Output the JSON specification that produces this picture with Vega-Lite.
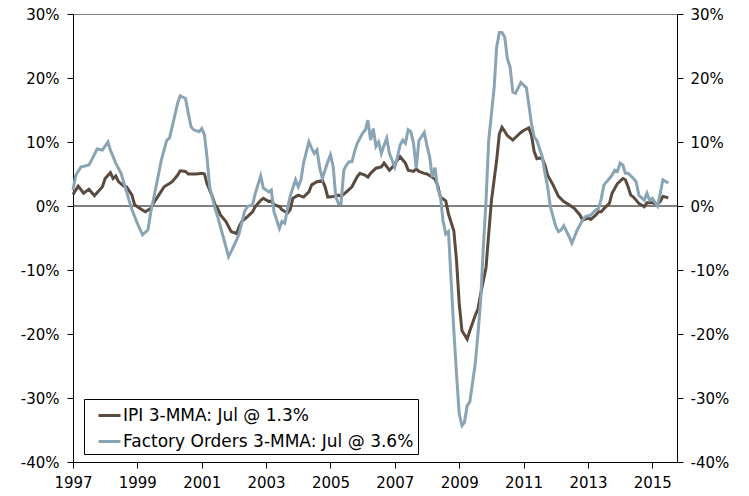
{
  "$schema": "https://vega.github.io/schema/vega-lite/v6.json",
  "width": 604,
  "height": 448,
  "autosize": {"type": "none"},
  "padding": {"left": 73, "top": 14, "right": 72, "bottom": 34},
  "config": {
    "view": {"stroke": "#7f7f7f", "strokeWidth": 1},
    "font": "DejaVu Sans",
    "axis": {"labelFont": "DejaVu Sans", "labelFontSize": 15, "labelColor": "#000", "domainColor": "#000", "tickColor": "#000", "grid": false, "title": null, "domainWidth": 1, "tickWidth": 1, "tickSize": 6}
  },
  "datasets": {
    "zero": [{"v": 0}],
    "ipi": [
      {"date":"1997-01","value":1.8},{"date":"1997-03","value":3.1},{"date":"1997-05","value":2.0},{"date":"1997-07","value":2.6},{"date":"1997-09","value":1.6},{"date":"1997-12","value":3.0},
      {"date":"1998-01","value":4.3},{"date":"1998-03","value":5.2},{"date":"1998-04","value":4.3},{"date":"1998-05","value":4.7},{"date":"1998-06","value":3.8},{"date":"1998-08","value":3.1},{"date":"1998-09","value":3.0},{"date":"1998-11","value":1.7},{"date":"1998-12","value":0.2},
      {"date":"1999-02","value":-0.4},{"date":"1999-04","value":-0.9},{"date":"1999-06","value":-0.4},{"date":"1999-07","value":0.4},{"date":"1999-09","value":1.7},{"date":"1999-11","value":3.0},
      {"date":"2000-01","value":3.5},{"date":"2000-02","value":3.8},{"date":"2000-04","value":4.8},{"date":"2000-05","value":5.5},{"date":"2000-07","value":5.4},{"date":"2000-08","value":5.0},{"date":"2000-10","value":5.0},{"date":"2000-11","value":5.0},
      {"date":"2001-01","value":5.1},{"date":"2001-02","value":5.0},{"date":"2001-03","value":3.5},{"date":"2001-05","value":1.5},{"date":"2001-06","value":0.2},{"date":"2001-07","value":-0.4},{"date":"2001-08","value":-1.4},{"date":"2001-10","value":-2.4},{"date":"2001-12","value":-4.0},
      {"date":"2002-02","value":-4.3},{"date":"2002-03","value":-3.2},{"date":"2002-04","value":-2.4},{"date":"2002-06","value":-1.7},{"date":"2002-08","value":-0.9},{"date":"2002-09","value":-0.1},{"date":"2002-11","value":0.9},{"date":"2002-12","value":1.2},
      {"date":"2003-02","value":0.7},{"date":"2003-03","value":0.8},{"date":"2003-04","value":0.2},{"date":"2003-06","value":-0.1},{"date":"2003-07","value":-0.6},{"date":"2003-09","value":-1.1},{"date":"2003-10","value":-0.6},{"date":"2003-11","value":1.2},
      {"date":"2004-01","value":1.7},{"date":"2004-03","value":1.4},{"date":"2004-05","value":2.2},{"date":"2004-06","value":3.3},{"date":"2004-08","value":3.8},{"date":"2004-10","value":4.0},{"date":"2004-11","value":3.0},{"date":"2004-12","value":1.4},
      {"date":"2005-02","value":1.5},{"date":"2005-04","value":1.7},{"date":"2005-05","value":1.5},{"date":"2005-07","value":2.2},{"date":"2005-09","value":3.0},{"date":"2005-11","value":4.6},{"date":"2005-12","value":5.1},
      {"date":"2006-02","value":4.8},{"date":"2006-03","value":4.5},{"date":"2006-04","value":5.1},{"date":"2006-06","value":5.9},{"date":"2006-08","value":6.1},{"date":"2006-09","value":6.7},{"date":"2006-11","value":5.6},{"date":"2006-12","value":6.0},
      {"date":"2007-02","value":7.2},{"date":"2007-03","value":7.7},{"date":"2007-05","value":6.7},{"date":"2007-06","value":5.6},{"date":"2007-08","value":5.4},{"date":"2007-09","value":5.8},{"date":"2007-10","value":5.4},{"date":"2007-12","value":5.1},
      {"date":"2008-01","value":5.0},{"date":"2008-03","value":4.5},{"date":"2008-04","value":4.2},{"date":"2008-05","value":3.2},{"date":"2008-06","value":1.4},{"date":"2008-08","value":0.8},{"date":"2008-09","value":-1.25},{"date":"2008-11","value":-3.9},{"date":"2008-12","value":-8.5},
      {"date":"2009-01","value":-15.3},{"date":"2009-02","value":-19.5},{"date":"2009-04","value":-20.8},{"date":"2009-05","value":-19.5},{"date":"2009-07","value":-17.1},{"date":"2009-08","value":-16.1},{"date":"2009-09","value":-13.75},{"date":"2009-11","value":-9.6},{"date":"2009-12","value":-4.4},
      {"date":"2010-01","value":0.8},{"date":"2010-03","value":7.1},{"date":"2010-04","value":11.25},{"date":"2010-05","value":12.3},{"date":"2010-07","value":11.0},{"date":"2010-09","value":10.3},{"date":"2010-10","value":10.7},{"date":"2010-12","value":11.5},
      {"date":"2011-01","value":11.8},{"date":"2011-03","value":12.2},{"date":"2011-04","value":11.0},{"date":"2011-05","value":8.5},{"date":"2011-06","value":7.4},{"date":"2011-07","value":7.5},{"date":"2011-08","value":7.4},{"date":"2011-09","value":6.4},{"date":"2011-10","value":4.8},{"date":"2011-12","value":3.3},
      {"date":"2012-02","value":1.5},{"date":"2012-04","value":0.7},{"date":"2012-06","value":0.2},{"date":"2012-08","value":-0.4},{"date":"2012-10","value":-1.4},{"date":"2012-11","value":-2.2},
      {"date":"2013-01","value":-1.9},{"date":"2013-02","value":-2.1},{"date":"2013-04","value":-1.4},{"date":"2013-05","value":-0.9},{"date":"2013-06","value":-0.9},{"date":"2013-07","value":-0.4},{"date":"2013-09","value":0.4},{"date":"2013-10","value":2.0},{"date":"2013-12","value":3.5},
      {"date":"2014-02","value":4.3},{"date":"2014-03","value":4.1},{"date":"2014-04","value":3.0},{"date":"2014-05","value":1.7},{"date":"2014-06","value":1.4},{"date":"2014-08","value":0.4},{"date":"2014-10","value":-0.1},{"date":"2014-11","value":0.5},
      {"date":"2015-01","value":0.5},{"date":"2015-03","value":0.3},{"date":"2015-04","value":0.7},{"date":"2015-05","value":1.5},{"date":"2015-07","value":1.3}
    ],
    "fo": [
      {"date":"1997-01","value":2.5},{"date":"1997-02","value":4.8},{"date":"1997-04","value":6.1},{"date":"1997-07","value":6.4},{"date":"1997-08","value":7.2},{"date":"1997-10","value":8.9},{"date":"1997-12","value":8.75},
      {"date":"1998-02","value":10.0},{"date":"1998-03","value":8.75},{"date":"1998-05","value":6.7},{"date":"1998-07","value":5.1},{"date":"1998-09","value":2.2},{"date":"1998-11","value":-0.6},
      {"date":"1999-01","value":-2.7},{"date":"1999-03","value":-4.5},{"date":"1999-05","value":-3.75},{"date":"1999-06","value":-1.1},{"date":"1999-08","value":3.0},{"date":"1999-10","value":7.2},{"date":"1999-12","value":10.3},
      {"date":"2000-01","value":10.6},{"date":"2000-02","value":12.4},{"date":"2000-04","value":16.0},{"date":"2000-05","value":17.2},{"date":"2000-07","value":16.8},{"date":"2000-08","value":14.5},{"date":"2000-09","value":12.4},{"date":"2000-10","value":11.9},{"date":"2000-12","value":11.6},
      {"date":"2001-01","value":12.1},{"date":"2001-02","value":11.1},{"date":"2001-03","value":7.7},{"date":"2001-04","value":3.0},{"date":"2001-06","value":-0.4},{"date":"2001-07","value":-1.7},{"date":"2001-09","value":-4.8},{"date":"2001-11","value":-7.9},{"date":"2001-12","value":-7.1},
      {"date":"2002-02","value":-5.3},{"date":"2002-03","value":-4.3},{"date":"2002-05","value":-0.9},{"date":"2002-06","value":-0.1},{"date":"2002-08","value":0.2},{"date":"2002-09","value":2.0},{"date":"2002-11","value":4.7},{"date":"2002-12","value":2.8},
      {"date":"2003-02","value":2.2},{"date":"2003-03","value":2.5},{"date":"2003-04","value":-0.9},{"date":"2003-06","value":-3.5},{"date":"2003-07","value":-2.4},{"date":"2003-08","value":-2.7},{"date":"2003-09","value":-0.4},{"date":"2003-10","value":1.5},{"date":"2003-12","value":4.1},
      {"date":"2004-01","value":3.0},{"date":"2004-02","value":4.1},{"date":"2004-03","value":6.7},{"date":"2004-05","value":10.0},{"date":"2004-06","value":9.0},{"date":"2004-07","value":8.2},{"date":"2004-08","value":8.75},{"date":"2004-09","value":5.9},{"date":"2004-10","value":4.3},{"date":"2004-12","value":6.9},
      {"date":"2005-01","value":8.0},{"date":"2005-02","value":6.1},{"date":"2005-03","value":1.5},{"date":"2005-04","value":0.4},{"date":"2005-05","value":0.4},{"date":"2005-06","value":5.6},{"date":"2005-07","value":6.4},{"date":"2005-08","value":6.9},{"date":"2005-09","value":6.9},{"date":"2005-10","value":8.5},{"date":"2005-11","value":9.8},
      {"date":"2006-01","value":11.4},{"date":"2006-02","value":11.9},{"date":"2006-03","value":13.4},{"date":"2006-04","value":10.3},{"date":"2006-05","value":12.1},{"date":"2006-06","value":9.3},{"date":"2006-07","value":10.0},{"date":"2006-08","value":8.2},{"date":"2006-09","value":9.5},{"date":"2006-10","value":10.6},{"date":"2006-11","value":8.2},
      {"date":"2007-01","value":6.1},{"date":"2007-02","value":7.7},{"date":"2007-03","value":9.5},{"date":"2007-04","value":10.3},{"date":"2007-05","value":9.8},{"date":"2007-06","value":11.9},{"date":"2007-07","value":11.6},{"date":"2007-08","value":9.8},{"date":"2007-09","value":5.9},{"date":"2007-10","value":10.2},{"date":"2007-12","value":11.5},
      {"date":"2008-01","value":9.4},{"date":"2008-02","value":7.6},{"date":"2008-03","value":4.5},{"date":"2008-04","value":6.0},{"date":"2008-05","value":2.7},{"date":"2008-06","value":1.6},{"date":"2008-07","value":-2.3},{"date":"2008-08","value":-4.4},{"date":"2008-09","value":-4.0},{"date":"2008-10","value":-11.7},{"date":"2008-11","value":-19.5},{"date":"2008-12","value":-26.25},
      {"date":"2009-01","value":-32.5},{"date":"2009-02","value":-34.3},{"date":"2009-03","value":-33.8},{"date":"2009-04","value":-31.2},{"date":"2009-05","value":-30.6},{"date":"2009-07","value":-24.7},{"date":"2009-08","value":-20.0},{"date":"2009-09","value":-14.8},{"date":"2009-10","value":-6.5},{"date":"2009-11","value":0.8},{"date":"2009-12","value":10.2},
      {"date":"2010-02","value":18.5},{"date":"2010-03","value":24.8},{"date":"2010-04","value":27.1},{"date":"2010-05","value":27.1},{"date":"2010-06","value":26.4},{"date":"2010-07","value":23.0},{"date":"2010-08","value":21.7},{"date":"2010-09","value":17.8},{"date":"2010-10","value":17.6},{"date":"2010-12","value":19.3},
      {"date":"2011-02","value":18.5},{"date":"2011-03","value":15.9},{"date":"2011-04","value":12.8},{"date":"2011-05","value":10.8},{"date":"2011-06","value":10.2},{"date":"2011-08","value":7.7},{"date":"2011-09","value":5.1},{"date":"2011-10","value":3.0},{"date":"2011-11","value":-0.1},
      {"date":"2012-01","value":-3.2},{"date":"2012-02","value":-4.0},{"date":"2012-03","value":-3.75},{"date":"2012-04","value":-3.1},{"date":"2012-06","value":-4.8},{"date":"2012-07","value":-5.8},{"date":"2012-08","value":-4.8},{"date":"2012-09","value":-3.75},{"date":"2012-11","value":-2.2},{"date":"2012-12","value":-1.7},
      {"date":"2013-02","value":-1.4},{"date":"2013-04","value":-0.6},{"date":"2013-05","value":-0.4},{"date":"2013-06","value":1.2},{"date":"2013-07","value":3.3},{"date":"2013-09","value":4.3},{"date":"2013-10","value":4.8},{"date":"2013-11","value":5.6},{"date":"2013-12","value":5.4},
      {"date":"2014-01","value":6.7},{"date":"2014-02","value":6.4},{"date":"2014-03","value":5.1},{"date":"2014-04","value":5.1},{"date":"2014-06","value":4.3},{"date":"2014-07","value":3.8},{"date":"2014-08","value":1.7},{"date":"2014-10","value":0.9},{"date":"2014-11","value":2.0},{"date":"2014-12","value":0.9},
      {"date":"2015-01","value":1.2},{"date":"2015-03","value":0.0},{"date":"2015-04","value":2.0},{"date":"2015-05","value":4.1},{"date":"2015-07","value":3.6}
    ]
  },
  "layer": [
    {
      "data": {"name": "zero"},
      "mark": {"type": "rule", "color": "#000", "strokeWidth": 1},
      "encoding": {
        "y": {"field": "v", "type": "quantitative", "scale": {"domain": [-40, 30], "nice": false, "zero": false},
          "axis": {"orient": "right", "values": [-40, -30, -20, -10, 0, 10, 20, 30], "labelExpr": "datum.value + '%'", "labelPadding": 7}}
      }
    },
    {
      "data": {"name": "ipi"},
      "mark": {"type": "line", "strokeWidth": 3},
      "encoding": {
        "x": {"field": "date", "type": "temporal", "scale": {"domain": ["1997-01-01", "2015-10-08"]},
          "axis": {"values": [{"year":1997},{"year":1998},{"year":1999},{"year":2000},{"year":2001},{"year":2002},{"year":2003},{"year":2004},{"year":2005},{"year":2006},{"year":2007},{"year":2008},{"year":2009},{"year":2010},{"year":2011},{"year":2012},{"year":2013},{"year":2014},{"year":2015}],
            "labelExpr": "year(datum.value) % 2 == 1 ? timeFormat(datum.value, '%Y') : ''", "labelOverlap": false, "labelFlush": false, "labelPadding": 7}},
        "y": {"field": "value", "type": "quantitative", "scale": {"domain": [-40, 30], "nice": false, "zero": false},
          "axis": {"orient": "left", "values": [-40, -30, -20, -10, 0, 10, 20, 30], "labelExpr": "datum.value + '%'", "labelPadding": 8}},
        "color": {"datum": "IPI 3-MMA: Jul @ 1.3%", "type": "nominal",
          "scale": {"domain": ["IPI 3-MMA: Jul @ 1.3%", "Factory Orders 3-MMA: Jul @ 3.6%"], "range": ["#5b4a3e", "#89a4b4"]},
          "legend": {"orient": "none", "legendX": 11, "legendY": 385, "title": null, "strokeColor": "#000", "fillColor": "#fff", "padding": 4, "symbolType": "stroke", "symbolSize": 484, "symbolStrokeWidth": 3, "labelFont": "DejaVu Sans", "labelFontSize": 17, "labelColor": "#000", "rowPadding": 5, "labelOffset": 1, "symbolOffset": 9, "labelLimit": 500, "labelExpr": "datum.label + '  '"}}
      }
    },
    {
      "data": {"name": "fo"},
      "mark": {"type": "line", "strokeWidth": 3},
      "encoding": {
        "x": {"field": "date", "type": "temporal"},
        "y": {"field": "value", "type": "quantitative", "axis": null},
        "color": {"datum": "Factory Orders 3-MMA: Jul @ 3.6%", "type": "nominal"}
      }
    }
  ],
  "resolve": {"axis": {"y": "independent"}}
}
